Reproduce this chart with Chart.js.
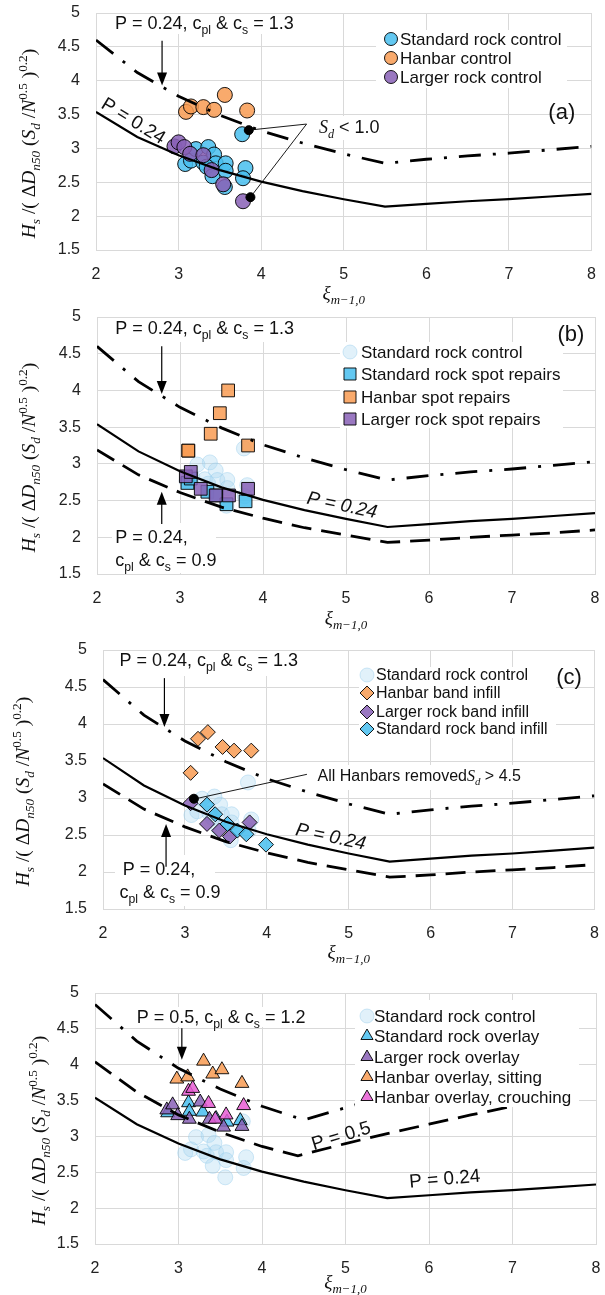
<!DOCTYPE html>
<html>
<head>
<meta charset="UTF-8">
<script src="https://cdn.jsdelivr.net/npm/chart.js"></script>
<style>
  body { margin: 0; background: #fff; width: 605px; height: 1295px; position: relative; overflow: hidden; }
  canvas { position: absolute; left: 0; }
</style>
</head>
<body>
<canvas id="chartA" width="605" height="310" style="top:0px"></canvas>
<canvas id="chartB" width="605" height="330" style="top:305px"></canvas>
<canvas id="chartC" width="605" height="345" style="top:627px"></canvas>
<canvas id="chartD" width="605" height="328" style="top:967px"></canvas>
<script>
// ---- axes
const xTicks = [2, 3, 4, 5, 6, 7, 8];
const yTicks = [1.5, 2, 2.5, 3, 3.5, 4, 4.5, 5];

// ---- design curves
const curveX   = [2, 2.5, 3, 3.5, 4, 4.5, 5, 5.5, 6, 6.5, 7, 7.5, 8];
const p024     = [3.54, 3.17, 2.90, 2.68, 2.51, 2.37, 2.25, 2.14, 2.18, 2.22, 2.25, 2.29, 2.33];
const p024c13  = [4.60, 4.12, 3.77, 3.49, 3.26, 3.08, 2.92, 2.78, 2.84, 2.89, 2.93, 2.98, 3.03];
const p024c09  = [3.19, 2.85, 2.61, 2.41, 2.26, 2.13, 2.03, 1.93, 1.96, 2.00, 2.03, 2.06, 2.10];
const p05X     = [2, 2.5, 3, 3.5, 4, 4.43, 5, 5.5, 6, 6.5, 7];
const p05      = [4.04, 3.62, 3.30, 3.06, 2.86, 2.73, 2.90, 3.04, 3.17, 3.30, 3.42];
const p05c12X  = [2, 2.5, 3, 3.5, 4, 4.5, 5, 5.5];
const p05c12   = [4.84, 4.33, 3.95, 3.66, 3.42, 3.23, 3.40, 3.57];

// ---- test results [xi, stability number]
const stdRockControl = [[3.08,2.77],[3.15,2.82],[3.21,2.99],[3.30,2.79],[3.36,3.02],[3.43,2.91],[3.45,2.78],[3.34,2.73],
                        [3.41,2.59],[3.57,2.78],[3.57,2.67],[3.56,2.43],[3.81,2.71],[3.78,2.56],[3.77,3.21]];
const hanbarControl = [[3.09,3.54],[3.15,3.62],[3.30,3.61],[3.43,3.57],[3.56,3.79],[3.83,3.56]];
const largerRockControl = [[2.95,3.03],[3.00,3.09],[3.07,3.02],[3.14,2.92],[3.30,2.90],[3.40,2.68],[3.54,2.47],[3.78,2.22]];
const sdBelowOne = [[3.85,3.27],[3.87,2.28]];

const stdRockSpot = [[3.09,2.74],[3.13,2.80],[3.33,2.62],[3.44,2.57],[3.56,2.45],[3.79,2.49]];
const hanbarSpot = [[3.10,3.18],[3.10,3.18],[3.37,3.41],[3.48,3.69],[3.58,4.00],[3.82,3.25]];
const largerRockSpot = [[3.07,2.83],[3.13,2.89],[3.25,2.66],[3.43,2.57],[3.59,2.57],[3.82,2.66]];

const hanbarBand = [[3.07,3.34],[3.16,3.80],[3.28,3.89],[3.46,3.69],[3.60,3.64],[3.81,3.64]];
const largerRockBand = [[3.07,2.93],[3.27,2.65],[3.42,2.56],[3.55,2.48],[3.79,2.67]];
const stdRockBand = [[3.27,2.91],[3.37,2.78],[3.52,2.65],[3.64,2.56],[3.75,2.51],[3.99,2.37]];
const hanbarsRemoved = [[3.11,2.99]];

const stdRockOverlay = [[2.87,3.33],[3.12,3.47],[3.13,3.35],[3.29,3.34],[3.45,3.25],[3.58,3.20],[3.74,3.22]];
const largerRockOverlay = [[2.86,3.37],[2.93,3.44],[2.99,3.29],[3.13,3.24],[3.26,3.48],[3.37,3.24],[3.54,3.13],[3.76,3.14]];
const hanbarSitting = [[2.98,3.80],[3.11,3.83],[3.30,4.05],[3.41,3.87],[3.52,3.93],[3.76,3.74]];
const hanbarCrouching = [[3.12,3.63],[3.17,3.67],[3.36,3.46],[3.44,3.24],[3.57,3.30],[3.78,3.43]];

// ---- styles
const SANS = '"Liberation Sans", Arial, sans-serif';
const SERIF = '"Liberation Serif", "DejaVu Serif", serif';
const cBlue = 'rgba(72,190,238,0.85)';
const cOrange = 'rgba(248,155,82,0.85)';
const cPurple = 'rgba(136,96,182,0.85)';
const cPink = 'rgba(232,92,212,0.85)';
const cFaded = 'rgba(168,214,240,0.35)';
const cFadedB = 'rgba(150,205,235,0.45)';
const edge = 'rgba(0,0,0,0.9)';

function pts(arr) { return arr.map(p => ({ x: p[0], y: p[1] })); }
function xy(xs, ys) { return xs.map((x, i) => ({ x: x, y: ys[i] })); }

function curve(xs, ys, kind) {
  const ds = { data: xy(xs, ys), showLine: true, pointRadius: 0, borderColor: '#000', fill: false, tension: 0 };
  if (kind === 'solid') { ds.borderWidth = 2.2; }
  if (kind === 'dash') { ds.borderWidth = 2.8; ds.borderDash = [20, 10]; }
  if (kind === 'dashdot') { ds.borderWidth = 2.8; ds.borderDash = [22, 12, 3, 12]; }
  return ds;
}
function marks(arr, style, color, r, border) {
  return { data: pts(arr), showLine: false, pointStyle: style, pointRadius: r, pointHoverRadius: r,
           backgroundColor: color, borderColor: border || edge, borderWidth: 1 };
}

// rich text: mode flags i=italic b=subscript p=superscript r=serif
function drawRich(ctx, parts, x, y, size, align, baseline) {
  const runs = parts.map(p => {
    const m = p[1] || '';
    const small = m.includes('b') || m.includes('p');
    const fs = small ? size * 0.68 : size;
    const fam = m.includes('r') ? SERIF : SANS;
    const font = (m.includes('i') ? 'italic ' : '') + fs + 'px ' + fam;
    const dy = m.includes('b') ? size * 0.28 : (m.includes('p') ? -size * 0.42 : 0);
    ctx.font = font;
    return { t: p[0], font: font, dy: dy, w: ctx.measureText(p[0]).width };
  });
  const w = runs.reduce((s, r) => s + r.w, 0);
  let cx = align === 'center' ? x - w / 2 : (align === 'right' ? x - w : x);
  ctx.textAlign = 'left';
  ctx.textBaseline = baseline || 'alphabetic';
  runs.forEach(r => { ctx.font = r.font; ctx.fillText(r.t, cx, y + r.dy); cx += r.w; });
  return w;
}

function arrow(ctx, x, y1, y2) {
  const d = Math.sign(y2 - y1);
  ctx.strokeStyle = '#000'; ctx.fillStyle = '#000'; ctx.lineWidth = 1.2; ctx.setLineDash([]);
  ctx.beginPath(); ctx.moveTo(x, y1); ctx.lineTo(x, y2 - d * 10); ctx.stroke();
  ctx.beginPath(); ctx.moveTo(x, y2); ctx.lineTo(x - 5, y2 - d * 13); ctx.lineTo(x + 5, y2 - d * 13); ctx.closePath(); ctx.fill();
}

function marker(ctx, it, x, y) {
  ctx.fillStyle = it.color; ctx.strokeStyle = it.border || edge; ctx.lineWidth = 1;
  Chart.helpers.drawPoint(ctx, { pointStyle: it.style, radius: it.r, rotation: 0, borderWidth: 1 }, x, y);
}

const yTitle = [['H','ir'],['s','irb'],[' /( Δ','r'],['D','ir'],['n50','irb'],[' (','r'],['S','ir'],['d','irb'],[' /','r'],
                ['N','ir'],['0.5','rp'],[' )','r'],['0.2','rp'],[')','r']];
const xTitle = [['ξ','ir'],['m−1,0','irb']];
const c13 = [['P = 0.24, c',''],['pl','b'],[' & c',''],['s','b'],[' = 1.3','']];
const c09 = [['c',''],['pl','b'],[' & c',''],['s','b'],[' = 0.9','']];
const c12 = [['P = 0.5, c',''],['pl','b'],[' & c',''],['s','b'],[' = 1.2','']];

function panelPlugin(p) {
  return {
    id: 'panel_' + p.id,
    afterDatasetsDraw(chart) {
      const ctx = chart.ctx, sx = chart.scales.x, sy = chart.scales.y;
      const X = v => sx.getPixelForValue(v), Y = v => sy.getPixelForValue(v);
      ctx.save();
      ctx.fillStyle = '#fff';
      p.boxes.forEach(b => ctx.fillRect(b[0], b[1], b[2] - b[0], b[3] - b[1]));
      ctx.strokeStyle = '#000'; ctx.lineWidth = 0.9;
      (p.callouts || []).forEach(c => {
        ctx.beginPath(); ctx.moveTo(X(c[0]), Y(c[1])); ctx.lineTo(X(c[2]), Y(c[3])); ctx.stroke();
      });
      (p.arrows || []).forEach(a => arrow(ctx, X(a[0]), Y(a[1]), Y(a[2])));
      p.texts.forEach(t => {
        ctx.save();
        ctx.translate(X(t.at[0]), Y(t.at[1]));
        if (t.angle) ctx.rotate(t.angle * Math.PI / 180);
        ctx.fillStyle = '#111';
        drawRich(ctx, t.parts, 0, 0, t.size, t.align || 'left', t.baseline || 'alphabetic');
        ctx.restore();
      });
      const lg = p.legend;
      lg.items.forEach((it, i) => {
        marker(ctx, it, lg.mx, lg.rows[i]);
        ctx.fillStyle = '#111';
        ctx.font = lg.size + 'px ' + SANS;
        ctx.textAlign = 'left'; ctx.textBaseline = 'middle';
        ctx.fillText(it.label, lg.tx, lg.rows[i] + 1);
      });
      ctx.restore();
    },
    afterDraw(chart) {
      const ctx = chart.ctx, a = chart.chartArea;
      ctx.save();
      ctx.fillStyle = '#111';
      drawRich(ctx, xTitle, (a.left + a.right) / 2, p.xTitleY + 5, 19, 'center', 'alphabetic');
      ctx.translate(p.yTitleX + 6, (a.top + a.bottom) / 2 + 12);
      ctx.rotate(-Math.PI / 2);
      drawRich(ctx, yTitle, 0, 0, 19.5, 'center', 'alphabetic');
      ctx.restore();
    }
  };
}

function makePanel(p) {
  const border = { display: true, color: '#d9d9d9', width: 1 };
  const tickFont = { family: SANS, size: 16 };
  new Chart(document.getElementById(p.id), {
    type: 'scatter',
    data: { datasets: p.datasets },
    options: {
      responsive: false, animation: false, devicePixelRatio: 1,
      layout: { padding: { left: 0, right: p.pr, top: p.pt, bottom: p.pb } },
      plugins: { legend: { display: false }, tooltip: { enabled: false } },
      scales: {
        x: {
          type: 'linear', min: 2, max: 8, border: border,
          grid: { color: '#d9d9d9', lineWidth: 1, drawTicks: true, tickLength: 15, tickColor: 'rgba(0,0,0,0)' },
          afterBuildTicks: s => { s.ticks = xTicks.map(v => ({ value: v })); },
          afterFit: s => { s.height = 30; },
          ticks: { font: tickFont, color: '#222', padding: 0, maxRotation: 0, autoSkip: false,
                   callback: v => String(v) }
        },
        y: {
          type: 'linear', min: 1.5, max: 5, border: border,
          grid: { color: '#d9d9d9', lineWidth: 1, drawTicks: true, tickLength: 14, tickColor: 'rgba(0,0,0,0)' },
          afterBuildTicks: s => { s.ticks = yTicks.map(v => ({ value: v })); },
          afterFit: s => { s.width = p.yw; },
          ticks: { font: tickFont, color: '#222', padding: 2, autoSkip: false, callback: v => String(v) }
        }
      }
    },
    plugins: [panelPlugin(p)]
  });
}

const legCtrl = { label: 'Standard rock control', style: 'circle', color: cFaded, border: cFadedB, r: 7 };

// (a)
makePanel({
  id: 'chartA', yw: 96, pr: 13.5, pt: 13, pb: 30, xTitleY: 294, yTitleX: 29,
  datasets: [
    curve(curveX, p024, 'solid'),
    curve(curveX, p024c13, 'dashdot'),
    marks(sdBelowOne, 'circle', '#000', 4.5, '#000'),
    marks(largerRockControl, 'circle', cPurple, 7.5),
    marks(hanbarControl, 'circle', cOrange, 7.5),
    marks(stdRockControl, 'circle', cBlue, 7.5)
  ],
  boxes: [[112, 14, 305, 34], [376, 30, 567, 88], [314, 116, 390, 140]],
  callouts: [[4.55, 3.36, 3.85, 3.27], [4.55, 3.36, 3.87, 2.28]],
  arrows: [[2.80, 4.59, 3.93]],
  texts: [
    { at: [2.23, 4.76], parts: c13, size: 18 },
    { at: [2.45, 3.40], parts: [['P = 0.24', '']], size: 19, align: 'center', baseline: 'middle', angle: 31.5 },
    { at: [4.70, 3.23], parts: [['S', 'ir'], ['d', 'irb'], [' < 1.0', '']], size: 18 },
    { at: [7.64, 3.52], parts: [['(a)', '']], size: 22, align: 'center', baseline: 'middle' }
  ],
  legend: { mx: 391, tx: 400, size: 17, rows: [39, 58, 77], items: [
    { label: 'Standard rock control', style: 'circle', color: cBlue, r: 6.5 },
    { label: 'Hanbar control', style: 'circle', color: cOrange, r: 6.5 },
    { label: 'Larger rock control', style: 'circle', color: cPurple, r: 6.5 } ] }
});

// (b)
makePanel({
  id: 'chartB', yw: 97, pr: 7.5, pt: 12, pb: 31, xTitleY: 314, yTitleX: 29,
  datasets: [
    curve(curveX, p024, 'solid'),
    curve(curveX, p024c13, 'dashdot'),
    curve(curveX, p024c09, 'dash'),
    marks(largerRockSpot, 'rect', cPurple, 9),
    marks(hanbarSpot, 'rect', cOrange, 9),
    marks(stdRockSpot, 'rect', cBlue, 9),
    marks(stdRockControl, 'circle', cFaded, 7.5, cFadedB)
  ],
  boxes: [[112, 13, 309, 37], [340, 37, 563, 123], [112, 218, 216, 268]],
  arrows: [[2.78, 4.60, 3.95], [2.78, 2.18, 2.62]],
  texts: [
    { at: [2.22, 4.77], parts: c13, size: 18 },
    { at: [2.22, 1.92], parts: [['P = 0.24,', '']], size: 18 },
    { at: [2.22, 1.61], parts: c09, size: 18 },
    { at: [4.95, 2.43], parts: [['P = 0.24', 'i']], size: 19, align: 'center', baseline: 'middle', angle: 12 },
    { at: [7.71, 4.76], parts: [['(b)', '']], size: 22, align: 'center', baseline: 'middle' }
  ],
  legend: { mx: 350, tx: 361, size: 17, rows: [47, 69, 92, 114], items: [
    legCtrl,
    { label: 'Standard rock spot repairs', style: 'rect', color: cBlue, r: 8.5 },
    { label: 'Hanbar spot repairs', style: 'rect', color: cOrange, r: 8.5 },
    { label: 'Larger rock spot repairs', style: 'rect', color: cPurple, r: 8.5 } ] }
});

// (c)
makePanel({
  id: 'chartC', yw: 103, pr: 10.6, pt: 23, pb: 33, xTitleY: 326, yTitleX: 23,
  datasets: [
    curve(curveX, p024, 'solid'),
    curve(curveX, p024c13, 'dashdot'),
    curve(curveX, p024c09, 'dash'),
    marks(hanbarsRemoved, 'circle', '#000', 4.5, '#000'),
    marks(stdRockBand, 'rectRot', cBlue, 7.5),
    marks(largerRockBand, 'rectRot', cPurple, 7.5),
    marks(hanbarBand, 'rectRot', cOrange, 7.5),
    marks(stdRockControl, 'circle', cFaded, 7.5, cFadedB)
  ],
  boxes: [[115, 24, 305, 49], [359, 40, 556, 111], [115, 228, 215, 279], [314, 138, 550, 163]],
  callouts: [[4.49, 3.32, 3.13, 2.99]],
  arrows: [[2.75, 4.62, 3.96], [2.77, 2.07, 2.65]],
  texts: [
    { at: [2.20, 4.78], parts: c13, size: 18 },
    { at: [2.24, 1.96], parts: [['P = 0.24,', '']], size: 18 },
    { at: [2.20, 1.65], parts: c09, size: 18 },
    { at: [4.78, 2.47], parts: [['P = 0.24', 'i']], size: 19, align: 'center', baseline: 'middle', angle: 12 },
    { at: [4.62, 3.23], parts: [['All Hanbars removed', ''], ['S', 'ir'], ['d', 'irb'], [' > 4.5', '']], size: 16 },
    { at: [7.69, 4.62], parts: [['(c)', '']], size: 22, align: 'center', baseline: 'middle' }
  ],
  legend: { mx: 367, tx: 376, size: 16, rows: [48, 66, 85, 102], items: [
    legCtrl,
    { label: 'Hanbar band infill', style: 'rectRot', color: cOrange, r: 7 },
    { label: 'Larger rock band infill', style: 'rectRot', color: cPurple, r: 7 },
    { label: 'Standard rock band infill', style: 'rectRot', color: cBlue, r: 7 } ] }
});

// (d)
makePanel({
  id: 'chartD', yw: 95, pr: 5, pt: 26, pb: 21, xTitleY: 316, yTitleX: 39,
  datasets: [
    curve(curveX, p024, 'solid'),
    curve(p05X, p05, 'dash'),
    curve(p05c12X, p05c12, 'dashdot'),
    marks(hanbarCrouching, 'triangle', cPink, 8),
    marks(hanbarSitting, 'triangle', cOrange, 8),
    marks(largerRockOverlay, 'triangle', cPurple, 8),
    marks(stdRockOverlay, 'triangle', cBlue, 8),
    marks(stdRockControl, 'circle', cFaded, 7.5, cFadedB)
  ],
  boxes: [[135, 40, 320, 60], [355, 33, 579, 140]],
  arrows: [[3.04, 4.51, 4.07]],
  texts: [
    { at: [2.50, 4.58], parts: c12, size: 18 },
    { at: [4.95, 3.00], parts: [['P = 0.5', '']], size: 19, align: 'center', baseline: 'middle', angle: -17 },
    { at: [6.19, 2.40], parts: [['P = 0.24', '']], size: 19, align: 'center', baseline: 'middle', angle: -5 }
  ],
  legend: { mx: 367, tx: 374, size: 17, rows: [49, 69, 90, 110, 130], items: [
    legCtrl,
    { label: 'Standard rock overlay', style: 'triangle', color: cBlue, r: 7 },
    { label: 'Larger rock overlay', style: 'triangle', color: cPurple, r: 7 },
    { label: 'Hanbar overlay, sitting', style: 'triangle', color: cOrange, r: 7 },
    { label: 'Hanbar overlay, crouching', style: 'triangle', color: cPink, r: 7 } ] }
});
</script>
</body>
</html>
